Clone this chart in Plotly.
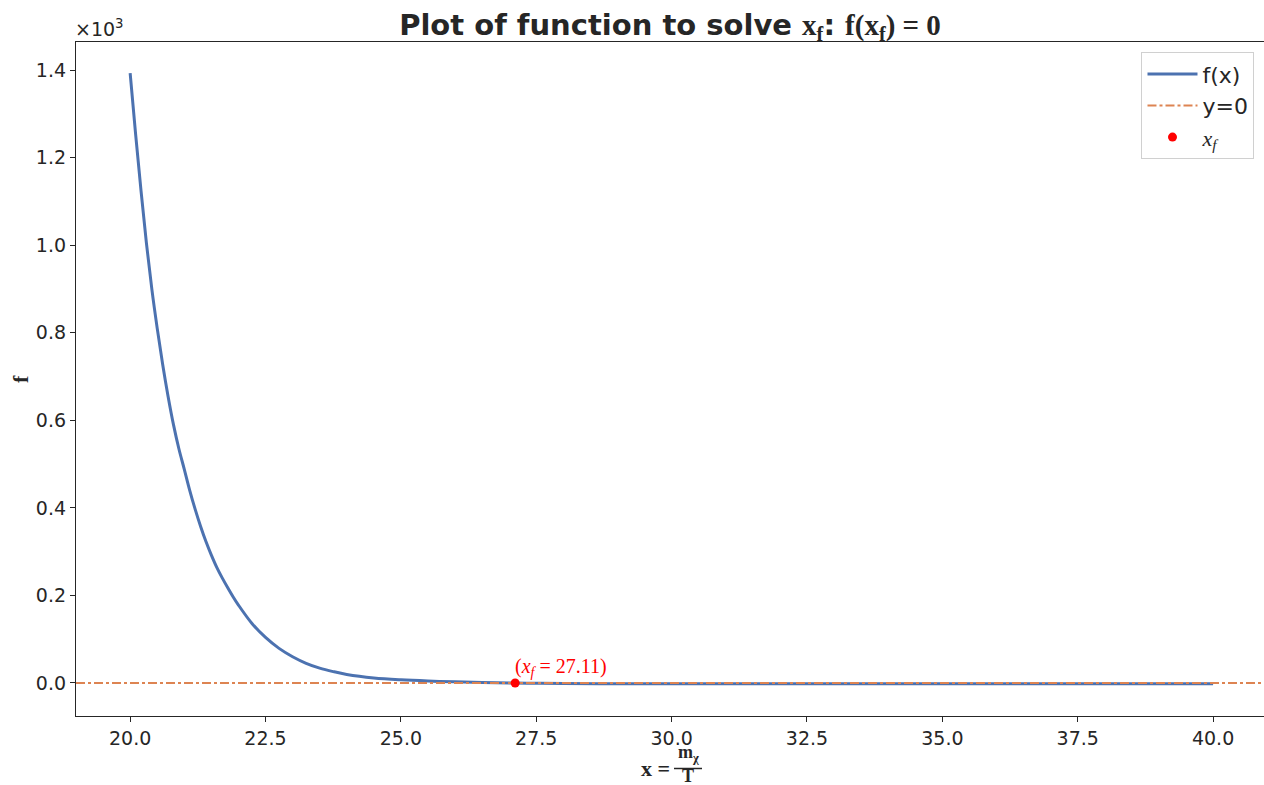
import plotly.graph_objects as go

# Sampled values of f(x), stored in units of 10^3
x_vals = [20.0, 20.1, 20.2, 20.3, 20.4, 20.5, 20.6, 20.7, 20.8, 20.9,
          21.0, 21.1, 21.2, 21.3, 21.4, 21.5, 21.6, 21.7, 21.8, 21.9,
          22.0, 22.25, 22.5, 22.75, 23.0, 23.25, 23.5, 23.75, 24.0, 24.5,
          25.0, 25.5, 26.0, 26.5, 27.11, 27.5, 28.0, 29.0, 30.0, 32.0,
          35.0, 40.0]
f_vals = [1.393, 1.255, 1.125, 1.005, 0.900, 0.810, 0.728, 0.655, 0.590, 0.535,
          0.488, 0.440, 0.397, 0.358, 0.323, 0.292, 0.264, 0.240, 0.218, 0.197,
          0.178, 0.136, 0.104, 0.079, 0.060, 0.045, 0.034, 0.026, 0.0195, 0.0115,
          0.0072, 0.0045, 0.0027, 0.0012, 0.0, -0.0007, -0.0012, -0.0016, -0.0018,
          -0.0019, -0.0020, -0.0020]

# Root of f
x_root = 27.11
y_root = 0.0

x_range = [19.0, 40.94]
y_range = [-0.0754, 1.464]
x_ticks = [20.0, 22.5, 25.0, 27.5, 30.0, 32.5, 35.0, 37.5, 40.0]
y_ticks = [0.0, 0.2, 0.4, 0.6, 0.8, 1.0, 1.2, 1.4]

BLUE = "#4C72B0"
ORANGE = "#DD8452"
TXT = "#262626"
SANS = "DejaVu Sans"
SERIF = "Liberation Serif"

# plot area in pixels: left 76, right 1264, top 42, bottom 716
def px_x(px):
    return (px - 76) / (1264 - 76)

def px_y(py):
    return 1 - (py - 42) / (716 - 42)

fig = go.Figure()

fig.add_trace(go.Scatter(
    x=x_vals, y=f_vals, mode="lines", name="f(x)",
    line=dict(color=BLUE, width=3, shape="spline", smoothing=1.0),
))
fig.add_trace(go.Scatter(
    x=x_range, y=[0, 0], mode="lines", name="y=0",
    line=dict(color=ORANGE, width=2, dash="dashdot"),
))
fig.add_trace(go.Scatter(
    x=[x_root], y=[y_root], mode="markers",
    name=f"<span style='font-family:{SERIF}'><i>x<sub>f</sub></i></span>",
    marker=dict(color="red", size=9),
))

# value label next to the root
fig.add_annotation(
    x=x_root, y=y_root, xref="x", yref="y",
    text=f"(<i>x<sub>f</sub></i> = {x_root:.2f})",
    showarrow=False, xanchor="left", yanchor="bottom", yshift=1, xshift=-2,
    font=dict(family=SERIF, size=20, color="red"),
)

# offset label of the y axis
fig.add_annotation(
    x=0, y=1, xref="paper", yref="paper", xanchor="left", yanchor="bottom",
    text="×10<sup>3</sup>", showarrow=False, xshift=-3, yshift=0,
    font=dict(family=SANS, size=19, color=TXT),
)

# y-axis label
fig.add_annotation(
    x=0, y=0.5, xref="paper", yref="paper", xanchor="center", yanchor="middle",
    text="<b>f</b>", textangle=-90, showarrow=False, xshift=-56,
    font=dict(family=SERIF, size=22, color=TXT),
)

# x-axis label: x = m_chi / T
fig.add_annotation(
    x=px_x(672), y=px_y(768), xref="paper", yref="paper", showarrow=False,
    text="<b>x =</b>", xanchor="right", yanchor="middle",
    font=dict(family=SERIF, size=22, color=TXT),
)
fig.add_annotation(
    x=px_x(688), y=px_y(753), xref="paper", yref="paper", showarrow=False,
    text="<b>m<sub>χ</sub></b>", xanchor="center", yanchor="middle",
    font=dict(family=SERIF, size=18, color=TXT),
)
fig.add_annotation(
    x=px_x(688), y=px_y(776), xref="paper", yref="paper", showarrow=False,
    text="<b>T</b>", xanchor="center", yanchor="middle",
    font=dict(family=SERIF, size=18, color=TXT),
)
fig.add_shape(
    type="line", xref="paper", yref="paper",
    x0=px_x(674), x1=px_x(702), y0=px_y(768.5), y1=px_y(768.5),
    line=dict(color=TXT, width=1.5),
)

title_text = (
    "<b>Plot of function to solve </b>"
    f"<span style='font-family:{SERIF}'><b>x<sub>f</sub></b></span><b>: </b>"
    f"<span style='font-family:{SERIF}'><b>f(x<sub>f</sub>) = 0</b></span>"
)

fig.update_layout(
    width=1264, height=785,
    margin=dict(l=76, r=0, t=42, b=69),
    paper_bgcolor="white", plot_bgcolor="white",
    font=dict(family=SANS, size=19, color=TXT),
    title=dict(text=title_text, x=0.5, xref="paper", xanchor="center",
               y=1 - 25 / 785, yref="container", yanchor="middle",
               font=dict(family=SANS, size=29, color=TXT)),
    showlegend=True,
    legend=dict(
        x=0.992, y=0.985, xanchor="right", yanchor="top",
        bgcolor="rgba(255,255,255,0.8)", bordercolor="#d0d0d0", borderwidth=1,
        font=dict(family=SANS, size=22, color=TXT),
        itemwidth=50,
    ),
    xaxis=dict(
        range=x_range, tickvals=x_ticks, ticktext=[f"{v:.1f}" for v in x_ticks],
        showgrid=False, zeroline=False, showline=True, linecolor=TXT,
        linewidth=1.3, mirror=True, ticks="outside", ticklen=5,
        tickcolor=TXT, tickwidth=1.3,
    ),
    yaxis=dict(
        range=y_range, tickvals=y_ticks, ticktext=[f"{v:.1f}" for v in y_ticks],
        showgrid=False, zeroline=False, showline=True, linecolor=TXT,
        linewidth=1.3, mirror=False, ticks="outside", ticklen=5,
        tickcolor=TXT, tickwidth=1.3,
    ),
)

fig.write_html("out.html")
